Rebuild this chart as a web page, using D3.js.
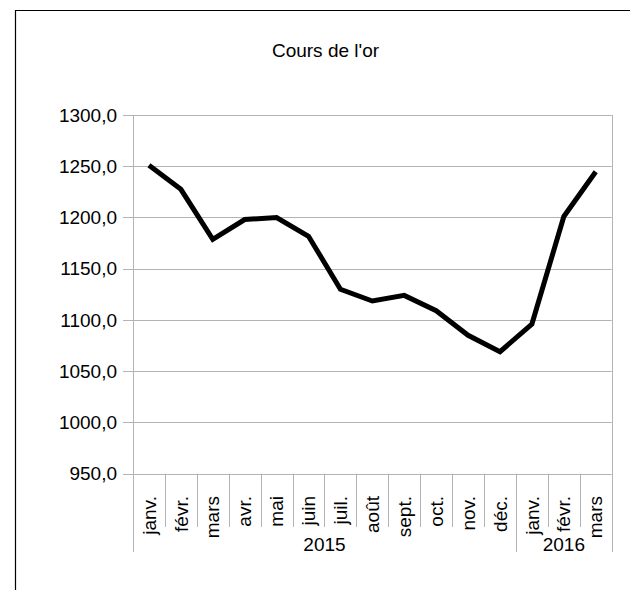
<!DOCTYPE html>
<html>
<head>
<meta charset="utf-8">
<script src="https://cdn.jsdelivr.net/npm/d3@7"></script>
<style>
  body { margin: 0; background: #fff; }
  svg { display: block; font-family: "Liberation Sans", Arial, sans-serif; }
</style>
</head>
<body>
<svg width="630" height="590"></svg>
<script>
const months = ["janv.", "févr.", "mars", "avr.", "mai", "juin", "juil.", "août", "sept.", "oct.", "nov.", "déc.", "janv.", "févr.", "mars"];
const years = [{ label: "2015", count: 12 }, { label: "2016", count: 3 }];
const prices = [1251, 1227.5, 1178.7, 1198, 1200, 1181.7, 1130, 1118.5, 1124, 1109, 1085, 1069, 1096, 1201, 1244.7];
const yTicks = [950, 1000, 1050, 1100, 1150, 1200, 1250, 1300];

const svg = d3.select("svg");

const plotL = 133, plotR = 611.7, plotT = 115, plotB = 473.7;
const fs = 19;

// cadre
svg.append("line").attr("x1", 15).attr("y1", 10.5).attr("x2", 630).attr("y2", 10.5)
  .attr("stroke", "#000").attr("stroke-width", 1.2);
svg.append("line").attr("x1", 15.5).attr("y1", 10).attr("x2", 15.5).attr("y2", 590)
  .attr("stroke", "#000").attr("stroke-width", 1.2);

svg.append("text")
  .attr("x", 325.5).attr("y", 57)
  .attr("text-anchor", "middle")
  .attr("font-size", fs)
  .text("Cours de l'or");

const idx = d3.range(months.length);
const x = d3.scaleBand().domain(idx).range([plotL, plotR]);
const y = d3.scaleLinear().domain([950, 1300]).range([plotB, plotT]);

// grille + ticks
svg.selectAll(".grid")
  .data(yTicks)
  .enter()
  .append("line")
  .attr("x1", plotL - 10).attr("x2", plotR)
  .attr("y1", d => Math.round(y(d)) + 0.5).attr("y2", d => Math.round(y(d)) + 0.5)
  .attr("stroke", "#b3b3b3");

svg.selectAll(".ylab")
  .data(yTicks)
  .enter()
  .append("text")
  .attr("x", 117)
  .attr("y", d => y(d))
  .attr("dy", "0.35em")
  .attr("text-anchor", "end")
  .attr("font-size", fs)
  .attr("fill", "#000")
  .text(d => d3.format(".1f")(d).replace(".", ","));

// séparateurs de catégories
const yearBounds = [0];
years.forEach(g => yearBounds.push(yearBounds[yearBounds.length - 1] + g.count));
const edge = i => Math.round(i < months.length ? x(i) : x(i - 1) + x.bandwidth()) + 0.5;
svg.selectAll(".sep")
  .data(d3.range(months.length + 1))
  .enter()
  .append("line")
  .attr("x1", edge)
  .attr("x2", edge)
  .attr("y1", i => (i === 0 || i === months.length) ? plotT : plotB)
  .attr("y2", i => yearBounds.includes(i) ? 552 : 527)
  .attr("stroke", "#b3b3b3");

svg.selectAll(".mlab")
  .data(months)
  .enter()
  .append("text")
  .attr("transform", (d, i) => `translate(${x(i) + x.bandwidth() / 2},496) rotate(-90)`)
  .attr("dy", "0.35em")
  .attr("text-anchor", "end")
  .attr("font-size", fs)
  .text(d => d);

svg.selectAll(".yearlab")
  .data(years)
  .enter()
  .append("text")
  .attr("x", (d, i) => {
    const a = yearBounds[i], b = yearBounds[i + 1];
    return (x(a) + x(b - 1) + x.bandwidth()) / 2;
  })
  .attr("y", 551)
  .attr("text-anchor", "middle")
  .attr("font-size", fs)
  .text(d => d.label);

const line = d3.line()
  .x((d, i) => x(i) + x.bandwidth() / 2)
  .y(d => y(d));

svg.append("path")
  .datum(prices)
  .attr("d", line)
  .attr("fill", "none")
  .attr("stroke", "#000")
  .attr("stroke-width", 5);
</script>
</body>
</html>
